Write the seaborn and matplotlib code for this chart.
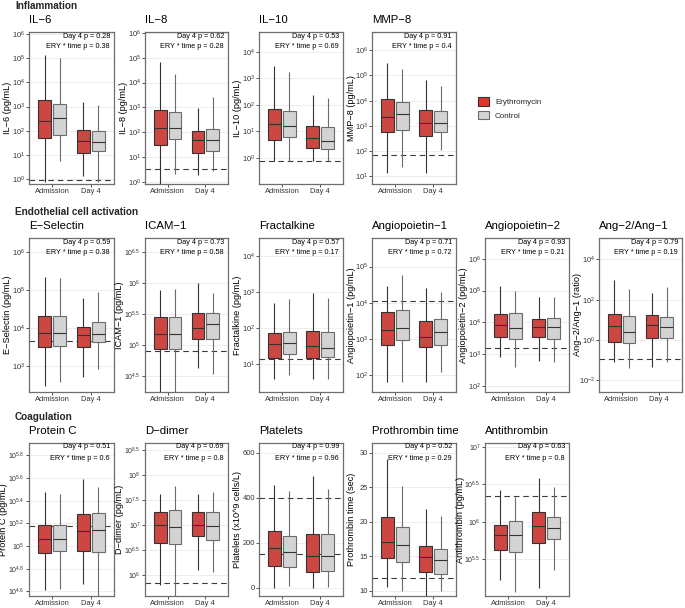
import numpy as np
import pandas as pd
import matplotlib
matplotlib.use("Agg")
import matplotlib.pyplot as plt
import seaborn as sns
from matplotlib.patches import Patch

sns.set_theme(style="white")
plt.rcParams["font.family"] = ["Liberation Sans", "DejaVu Sans"]
plt.rcParams["mathtext.fontset"] = "custom"
plt.rcParams["mathtext.rm"] = "Liberation Sans"
plt.rcParams["mathtext.it"] = "Liberation Sans:italic"
plt.rcParams["axes.unicode_minus"] = True

times = ["Admission", "Day 4"]
groups = ["Erythromycin", "Control"]
RED = "#E3322B"
GRAY = "#D3D3D3"

# five-number summaries [min, q1, median, q3, max]; log10 units for log panels
il6_ery = [[-0.10, 1.69, 2.40, 3.29, 5.14], [0.11, 1.08, 1.57, 2.04, 3.17]]
il6_ctl = [[0.76, 1.81, 2.54, 3.10, 5.00], [-0.10, 1.17, 1.54, 2.01, 3.06]]
il8_ery = [[-0.10, 1.49, 2.19, 2.88, 4.84], [0.27, 1.17, 1.70, 2.05, 2.98]]
il8_ctl = [[0.34, 1.73, 2.19, 2.81, 4.35], [0.43, 1.24, 1.70, 2.13, 3.41]]
il10_ery = [[-0.12, 0.69, 1.29, 1.84, 3.46], [-0.12, 0.38, 0.75, 1.19, 2.38]]
il10_ctl = [[-0.12, 0.78, 1.19, 1.78, 3.25], [-0.12, 0.34, 0.65, 1.16, 2.25]]
mmp8_ery = [[1.13, 2.75, 3.37, 4.05, 5.50], [1.13, 2.62, 3.11, 3.63, 4.82]]
mmp8_ctl = [[1.39, 2.84, 3.46, 3.96, 5.24], [2.05, 2.75, 3.11, 3.59, 4.58]]
esel_ery = [[2.48, 3.52, 3.89, 4.33, 5.36], [2.73, 3.50, 3.82, 4.03, 4.79]]
esel_ctl = [[2.60, 3.54, 3.87, 4.32, 5.32], [2.93, 3.63, 3.84, 4.16, 4.96]]
icam_ery = [[4.20, 4.94, 5.18, 5.46, 5.89], [4.64, 5.11, 5.28, 5.53, 6.00]]
icam_ctl = [[4.20, 4.95, 5.19, 5.45, 5.91], [4.54, 5.11, 5.34, 5.53, 5.84]]
frac_ery = [[0.60, 1.18, 1.55, 1.85, 2.69], [0.60, 1.16, 1.50, 1.92, 2.96]]
frac_ctl = [[0.69, 1.27, 1.58, 1.90, 2.81], [0.60, 1.20, 1.46, 1.88, 2.82]]
ang1_ery = [[1.81, 2.82, 3.24, 3.73, 4.47], [1.82, 2.78, 3.06, 3.50, 4.40]]
ang1_ctl = [[1.82, 2.98, 3.29, 3.80, 4.77], [2.08, 2.82, 3.19, 3.55, 4.31]]
ang2_ery = [[2.92, 3.55, 3.92, 4.25, 5.13], [2.79, 3.55, 3.84, 4.11, 4.79]]
ang2_ctl = [[2.60, 3.49, 3.83, 4.28, 4.99], [2.76, 3.49, 3.86, 4.15, 4.81]]
ratio_ery = [[-1.07, -0.08, 0.70, 1.29, 2.98], [-1.32, 0.09, 0.75, 1.24, 2.32]]
ratio_ctl = [[-1.40, -0.16, 0.42, 1.19, 2.51], [-1.07, 0.09, 0.63, 1.13, 2.61]]
protc_ery = [[4.61, 4.94, 5.06, 5.19, 5.48], [4.67, 4.96, 5.13, 5.28, 5.59]]
protc_ctl = [[4.62, 4.955, 5.06, 5.19, 5.46], [4.50, 4.95, 5.14, 5.29, 5.52]]
ddim_ery = [[5.80, 6.65, 7.00, 7.27, 7.63], [6.10, 6.79, 7.01, 7.27, 7.63]]
ddim_ctl = [[5.50, 6.62, 6.97, 7.31, 7.79], [6.07, 6.71, 6.99, 7.27, 7.67]]
plt_ery = [[0, 96, 175, 253, 456], [0, 68, 142, 241, 496]]
plt_ctl = [[9, 93, 160, 230, 430], [4, 76, 142, 237, 441]]
pt_ery = [[10.6, 14.7, 17.1, 20.7, 29.1], [9.1, 12.65, 14.9, 16.5, 21.9]]
pt_ctl = [[10.0, 14.2, 16.6, 19.25, 25.1], [10.0, 12.4, 14.5, 16.0, 20.8]]
at_ery = [[5.23, 5.63, 5.82, 5.96, 6.42], [5.12, 5.72, 5.94, 6.13, 6.58]]
at_ctl = [[5.07, 5.60, 5.82, 6.01, 6.33], [5.36, 5.77, 5.92, 6.07, 6.46]]

# reference lines
il6_ref = [-0.05]; il8_ref = [0.54]; il10_ref = [-0.12]; mmp8_ref = [1.83]
esel_ref = [3.68]; icam_ref = [4.91]; frac_ref = [1.14]; ang1_ref = [4.05]
ang2_ref = [3.18]; ratio_ref = [-0.94]; protc_ref = [5.18]; ddim_ref = [5.85]
plt_ref = [400, 150]; pt_ref = [11.9]; at_ref = [6.35]

titles = ["IL−6", "IL−8", "IL−10", "MMP−8",
          "E−Selectin", "ICAM−1", "Fractalkine", "Angiopoietin−1", "Angiopoietin−2", "Ang−2/Ang−1",
          "Protein C", "D−dimer", "Platelets", "Prothrombin time", "Antithrombin"]
ylabels = ["IL−6 (pg/mL)", "IL−8 (pg/mL)", "IL−10 (pg/mL)", "MMP−8 (pg/mL)",
           "E−Selectin (pg/mL)", "ICAM−1 (pg/mL)", "Fractalkine (pg/mL)", "Angiopoietin−1 (pg/mL)",
           "Angiopoietin−2 (pg/mL)", "Ang−2/Ang−1 (ratio)",
           "Protein C (pg/mL)", "D−dimer (pg/mL)", "Platelets (x10^9 cells/L)", "Prothrombin time (sec)",
           "Antithrombin (pg/mL)"]
day4_p = ["0.28", "0.62", "0.53", "0.91", "0.59", "0.73", "0.57", "0.71", "0.93", "0.79",
          "0.51", "0.69", "0.99", "0.52", "0.63"]
ery_time_p = ["0.38", "0.28", "0.69", "0.4", "0.38", "0.58", "0.17", "0.72", "0.21", "0.19",
              "0.6", "0.8", "0.96", "0.29", "0.8"]
yticks = [[0, 1, 2, 3, 4, 5, 6], [0, 1, 2, 3, 4, 5, 6], [0, 1, 2, 3, 4], [1, 2, 3, 4, 5, 6],
          [3, 4, 5, 6], [4.5, 5, 5.5, 6, 6.5], [1, 2, 3, 4], [2, 3, 4, 5], [2, 3, 4, 5, 6], [-2, 0, 2, 4],
          [4.6, 4.8, 5, 5.2, 5.4, 5.6, 5.8], [6, 6.5, 7, 7.5, 8, 8.5], [0, 200, 400, 600],
          [10, 15, 20, 25, 30], [5.5, 6, 6.5, 7]]

series = [(il6_ery, il6_ctl, il6_ref), (il8_ery, il8_ctl, il8_ref), (il10_ery, il10_ctl, il10_ref),
          (mmp8_ery, mmp8_ctl, mmp8_ref), (esel_ery, esel_ctl, esel_ref), (icam_ery, icam_ctl, icam_ref),
          (frac_ery, frac_ctl, frac_ref), (ang1_ery, ang1_ctl, ang1_ref), (ang2_ery, ang2_ctl, ang2_ref),
          (ratio_ery, ratio_ctl, ratio_ref), (protc_ery, protc_ctl, protc_ref),
          (ddim_ery, ddim_ctl, ddim_ref), (plt_ery, plt_ctl, plt_ref), (pt_ery, pt_ctl, pt_ref),
          (at_ery, at_ctl, at_ref)]
is_log = [True] * 12 + [False, False, True]

lefts = [29, 145, 259, 372, 485, 599]
rights = [114, 228, 343, 456, 569, 682]
row_tb = [(32, 184), (238, 392), (443, 596)]
cells = [(0, 0), (0, 1), (0, 2), (0, 3),
         (1, 0), (1, 1), (1, 2), (1, 3), (1, 4), (1, 5),
         (2, 0), (2, 1), (2, 2), (2, 3), (2, 4)]
ylims = [(-0.2, 6.08), (-0.08, 6.03), (-0.98, 4.75), (0.7, 6.72),
         (2.33, 6.37), (4.25, 6.73), (0.23, 4.49), (1.53, 5.79), (1.81, 6.65), (-2.57, 5.05),
         (4.56, 5.91), (5.58, 8.65), (-37, 644), (9.23, 31.4), (5.01, 7.05)]
ylab_off = [21, 21, 21, 21, 21, 25, 21, 21, 21, 21, 25.5, 25, 21, 20, 24.5]
tick_fs = [5.4] * 5 + [5.0] + [5.4] * 4 + [5.0, 5.0, 5.4, 5.4, 5.0]

W, H = 685, 608
fig = plt.figure(figsize=(W / 100, H / 100), dpi=100)

def fmt_tick(v):
    return r"$10^{%s}$" % ("%g" % v)

for i in range(15):
    rw, cl = cells[i]
    l, r = lefts[cl], rights[cl]
    t, b = row_tb[rw]
    ax = fig.add_axes([l / W, 1 - b / H, (r - l) / W, (b - t) / H])
    ery, ctl, ref = series[i]
    rows = []
    for g, d in zip(groups, [ery, ctl]):
        for ti, tm in enumerate(times):
            for v in d[ti]:
                rows.append({"time": tm, "group": g, "value": v})
    df = pd.DataFrame(rows)
    ax.set_axisbelow(True)
    ax.yaxis.grid(True, color="#EBEBEB", lw=0.6)
    for rv in ref:
        ax.axhline(rv, color="#3A3A3A", lw=0.8, ls=(0, (5, 3.5)), zorder=0.8)
    sns.boxplot(data=df, x="time", y="value", hue="group", order=times, hue_order=groups,
                palette=[RED, GRAY], whis=(0, 100), showfliers=False, showcaps=False,
                width=0.78, gap=0.12, linewidth=0.8, linecolor="#333333", legend=False, ax=ax)
    for cont, col in zip(ax.containers, ["#333333", "#6B6B6B"]):
        try:
            for bx in cont.boxes:
                bx.set_edgecolor(col)
            for w in cont.whiskers:
                w.set_color(col)
        except AttributeError:
            pass
    ax.set_xlim(-0.6, 1.6)
    ax.set_ylim(*ylims[i])
    ax.set_yticks(yticks[i])
    if is_log[i]:
        ax.set_yticklabels([fmt_tick(v) for v in yticks[i]])
    ax.set_xlabel("")
    ax.set_ylabel("")
    ax.tick_params(axis="both", length=2.0, width=0.6, color="#333333", labelsize=5.4,
                   labelcolor="#333333", pad=1.0, left=True, bottom=True)
    ax.tick_params(axis="y", labelsize=tick_fs[i])
    for sp in ax.spines.values():
        sp.set_color("#6E6E6E")
        sp.set_linewidth(0.9)
    ph = b - t
    pw = r - l
    ax.text(1 - 4 / pw, 1 - 4 / ph, "Day 4 p = " + day4_p[i], transform=ax.transAxes, ha="right",
            va="center", fontsize=5.2, color="black")
    ax.text(1 - 4 / pw, 1 - 15 / ph, "ERY * time p = " + ery_time_p[i], transform=ax.transAxes,
            ha="right", va="center", fontsize=5.2, color="black")
    fig.text(l / W, 1 - (t - 12) / H, titles[i], ha="left", va="center", fontsize=8.2, color="black")
    fig.text((l - ylab_off[i]) / W, 1 - (t + b) / 2 / H, ylabels[i], rotation=90, ha="center",
             va="center", fontsize=6.6, color="black")

for txt, y in [("Inflammation", 6), ("Endothelial cell activation", 212), ("Coagulation", 417)]:
    fig.text(15 / W, 1 - y / H, txt, ha="left", va="center", fontsize=7.2, fontweight="bold")

handles = [Patch(facecolor=RED, edgecolor="#333333", lw=0.8),
           Patch(facecolor=GRAY, edgecolor="#6B6B6B", lw=0.8)]
fig.legend(handles, groups, loc="upper left", bbox_to_anchor=(478 / W, 1 - 97 / H), frameon=False,
           fontsize=5.8, handlelength=1.4, handleheight=1.3, labelspacing=0.55, handletextpad=0.7,
           borderpad=0, borderaxespad=0)

fig.savefig("out.png", dpi=100)
